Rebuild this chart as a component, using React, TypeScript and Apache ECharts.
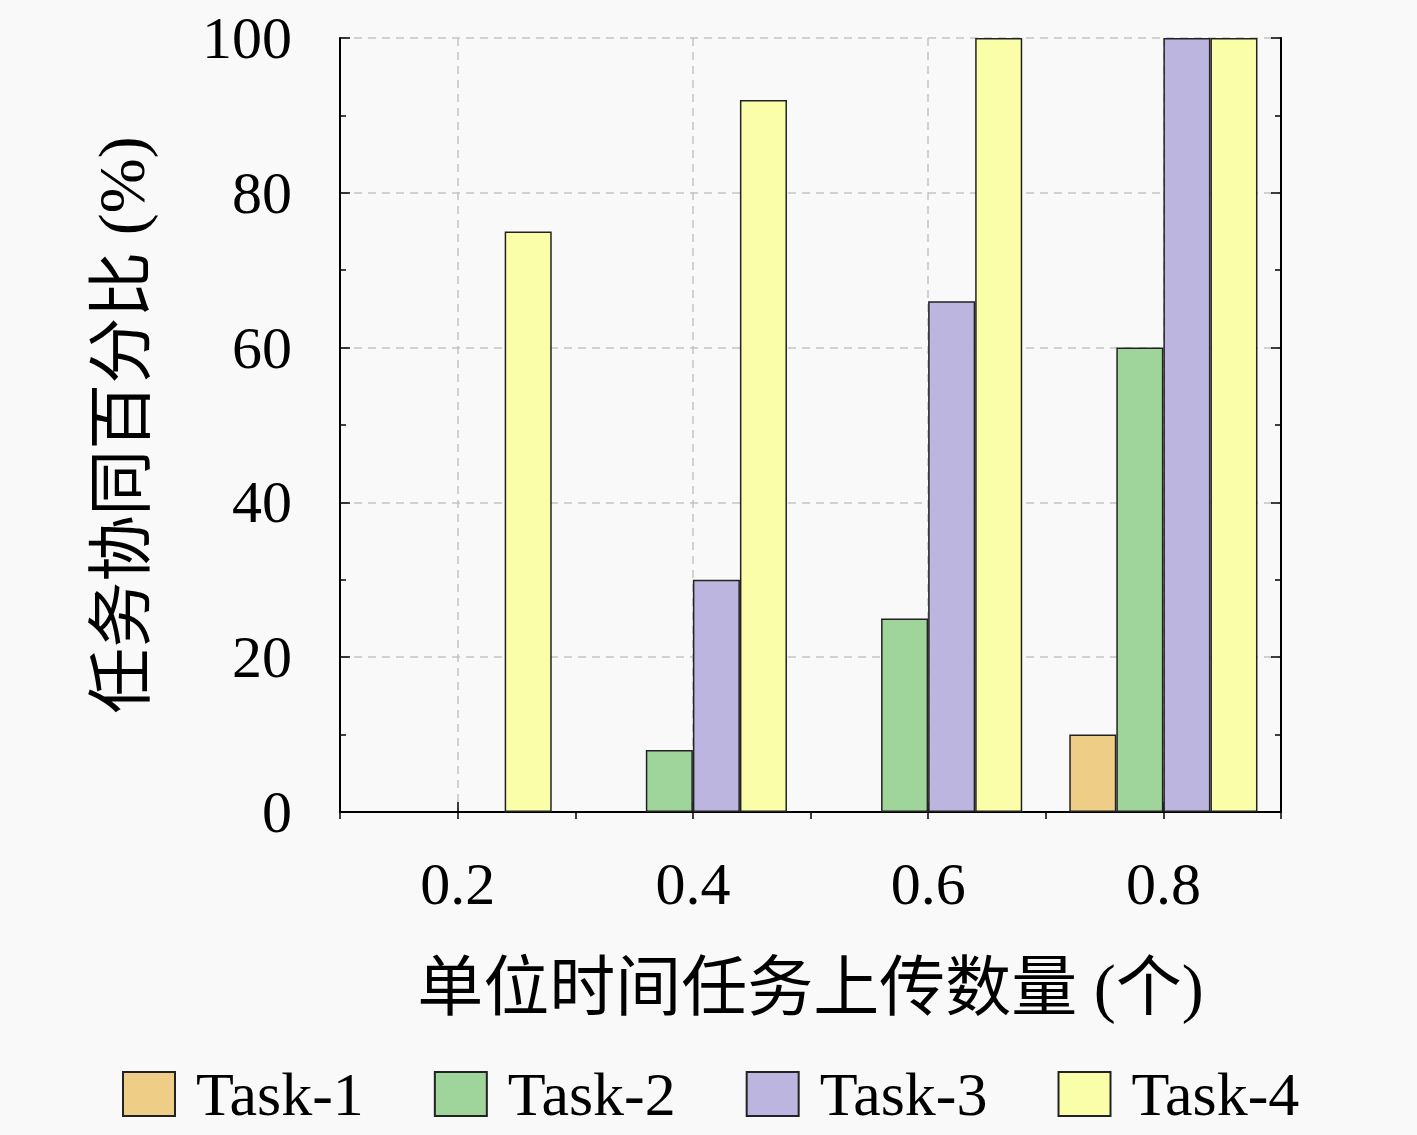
import React, { useEffect, useRef } from 'react';
import * as echarts from 'echarts';

const categories = ['0.2', '0.4', '0.6', '0.8'];
const seriesNames = ['Task-1', 'Task-2', 'Task-3', 'Task-4'];
const task1 = [null, null, null, 10];
const task2 = [null, 8, 25, 60];
const task3 = [null, 30, 66, 100];
const task4 = [75, 92, 100, 100];
const colors = ['#eecd87', '#9fd49b', '#bcb5df', '#fafea8'];
// helper ticks: boundaries + centers of the 4 categories
const halfTicks = ['0', '1', '2', '3', '4', '5', '6', '7', '8'];

const serif = '"Liberation Serif", "Noto Sans CJK SC", serif';

const App: React.FC = () => {
  const chartRef = useRef<HTMLDivElement | null>(null);

  useEffect(() => {
    document.body.style.margin = '0';
    if (!chartRef.current) return;
    const chart = echarts.init(chartRef.current, undefined, { renderer: 'svg' });
    const values = [task1, task2, task3, task4];

    const valueAxis = (position: 'left' | 'right') => ({
      type: 'value',
      position,
      min: 0,
      max: 100,
      interval: 20,
      axisLine: { show: true, lineStyle: { color: '#000', width: 2 } },
      axisTick: { show: true, inside: true, length: 10, lineStyle: { color: '#000', width: 1.5 } },
      minorTick: { show: true, splitNumber: 2, length: 6, lineStyle: { color: '#000', width: 1.5 } },
      axisLabel: {
        show: position === 'left',
        margin: 48,
        fontSize: 60,
        color: '#000',
        fontFamily: serif,
      },
      splitLine: {
        show: position === 'left',
        lineStyle: { color: '#c4c4c4', type: [8, 6], width: 1.5 },
      },
      name: position === 'left' ? '任务协同百分比 (%)' : '',
      nameLocation: 'middle',
      nameGap: 186,
      nameTextStyle: { fontSize: 66, color: '#000', fontFamily: serif },
    });

    chart.setOption({
      animation: false,
      backgroundColor: '#f9f9f9',
      grid: { left: 340, right: 136, top: 38, bottom: 323 },
      legend: {
        left: 117,
        top: 1058,
        icon: 'rect',
        itemWidth: 52,
        itemHeight: 44,
        itemGap: 70,
        textStyle: {
          fontSize: 62,
          lineHeight: 62,
          color: '#000',
          fontFamily: serif,
          padding: [0, 0, 0, 16],
        },
        data: seriesNames,
      },
      xAxis: [
        {
          type: 'category',
          data: categories,
          position: 'bottom',
          axisLine: { show: true, lineStyle: { color: '#000', width: 2 } },
          axisTick: { show: true, inside: true, alignWithLabel: true, length: 10, lineStyle: { color: '#000', width: 1.5 } },
          axisLabel: { margin: 42, fontSize: 60, color: '#000', fontFamily: serif },
          splitLine: { show: false },
          name: '单位时间任务上传数量 (个)',
          nameLocation: 'middle',
          nameGap: 142,
          nameTextStyle: { fontSize: 66, color: '#000', fontFamily: serif },
        },
        {
          type: 'category',
          data: halfTicks,
          position: 'top',
          boundaryGap: false,
          axisLine: { show: true, lineStyle: { color: '#000', width: 2 } },
          axisTick: { show: true, inside: true, interval: 0, length: 7, lineStyle: { color: '#000', width: 1.5 } },
          axisLabel: { show: false },
          splitLine: {
            show: true,
            interval: (i: number) => i % 2 === 1,
            lineStyle: { color: '#c4c4c4', type: [8, 6], width: 1.5 },
          },
        },
      ],
      yAxis: [valueAxis('left'), valueAxis('right')],
      series: seriesNames.map((name, i) => ({
        name,
        type: 'bar',
        xAxisIndex: 0,
        yAxisIndex: 0,
        data: values[i],
        barGap: '0%',
        barCategoryGap: '20%',
        itemStyle: { color: colors[i], borderColor: '#222', borderWidth: 1.5 },
      })),
    });

    return () => {
      chart.dispose();
    };
  }, []);

  return <div ref={chartRef} style={{ width: '1417px', height: '1135px' }} />;
};

export default App;
